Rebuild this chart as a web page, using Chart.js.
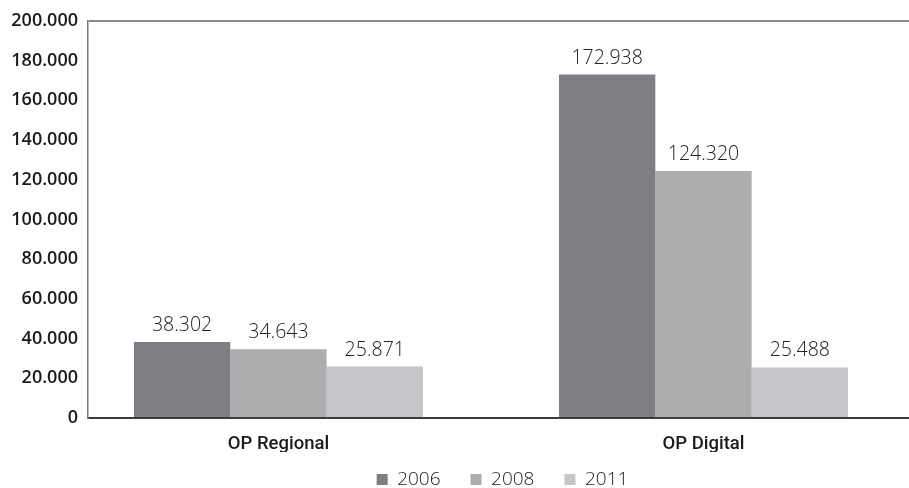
<!DOCTYPE html>
<html>
<head>
<meta charset="utf-8">
<script src="https://cdn.jsdelivr.net/npm/chart.js@4.4.1/dist/chart.umd.min.js"></script>
<style>
  html, body { margin: 0; padding: 0; background: #fff; }
  #wrap { position: relative; width: 909px; height: 488px; }
</style>
</head>
<body>
<div id="wrap"><canvas id="chart"></canvas></div>
<script>
// ── DATA ──────────────────────────────────────────────
const CATEGORIES  = ['OP Regional', 'OP Digital'];
const YEARS       = ['2006', '2008', '2011'];
const VALUES_2006 = [38302, 172938];
const VALUES_2008 = [34643, 124320];
const VALUES_2011 = [25871, 25488];
const Y_MAX  = 200000;
const Y_STEP = 20000;

const COLORS = ['#7f7e83', '#adadb0', '#c5c6ca'];

// 38302 -> "38.302"
function fmtDot(v) {
  return String(Math.round(v)).replace(/\B(?=(\d{3})+(?!\d))/g, '.');
}

// value labels above each bar
const barLabels = {
  id: 'barLabels',
  afterDatasetsDraw(chart) {
    const ctx = chart.ctx;
    ctx.save();
    ctx.font = '300 19.5px "Open Sans"';
    ctx.fillStyle = '#222';
    ctx.textAlign = 'center';
    ctx.textBaseline = 'alphabetic';
    chart.data.datasets.forEach((ds, di) => {
      chart.getDatasetMeta(di).data.forEach((el, i) => {
        ctx.fillText(fmtDot(ds.data[i].y), el.x, el.y - 11);
      });
    });
    ctx.restore();
  }
};

// legend sits a bit higher and right of its default box
const legendShift = {
  id: 'legendShift',
  afterLayout(chart) {
    const lg = chart.legend;
    if (!lg) return;
    lg.top -= 12;
    lg.bottom = chart.height;
    lg.height = lg.bottom - lg.top;
    lg.left += 96;
    lg.width = lg.right - lg.left;
    (lg.legendHitBoxes || []).forEach(h => { h.top -= 12; });
  }
};

const series = [VALUES_2006, VALUES_2008, VALUES_2011];

new Chart(document.getElementById('chart'), {
  type: 'bar',
  data: {
    datasets: YEARS.map((yr, k) => ({
      label: yr,
      data: series[k].map((v, i) => ({ x: i, y: v })),
      backgroundColor: COLORS[k],
      borderWidth: 0,
      categoryPercentage: 0.68,
      barPercentage: 1,
    })),
  },
  options: {
    responsive: true, maintainAspectRatio: false, animation: false,
    layout: { padding: { top: 18, left: 0, right: 0, bottom: 0 } },
    plugins: {
      tooltip: { enabled: false },
      legend: {
        position: 'bottom',
        maxHeight: 36,
        labels: {
          color: '#222', font: { family: '"Open Sans"', size: 19, weight: '300' },
          boxWidth: 11, boxHeight: 11, padding: 30,
        },
      },
    },
    scales: {
      x: {
        type: 'linear',
        offset: false,
        min: -0.448, max: 1.4835,
        afterBuildTicks: s => { s.ticks = CATEGORIES.map((c, i) => ({ value: i })); },
        afterFit: s => { s.height = 34; },
        ticks: {
          color: '#1a1a1a', padding: 7,
          font: { family: 'Roboto', size: 18.5, weight: '500' },
          callback: v => CATEGORIES[v],
        },
        grid: { display: false, offset: false },
        border: { display: true, color: '#3c3c3c', width: 2 },
      },
      y: {
        min: 0, max: Y_MAX,
        afterFit: s => { s.width = 88; },
        ticks: {
          stepSize: Y_STEP, color: '#1a1a1a', padding: 10,
          font: { family: '"Open Sans"', size: 18, weight: '600' },
          callback: v => fmtDot(v),
        },
        grid: {
          drawTicks: false, lineWidth: 2,
          color: c => c.tick && c.tick.value === Y_MAX ? '#8a8a8a' : 'rgba(0,0,0,0)',
        },
        border: { display: true, color: '#7a7a7a', width: 1.5 },
      },
    },
  },
  plugins: [barLabels, legendShift],
});
</script>
</body>
</html>
